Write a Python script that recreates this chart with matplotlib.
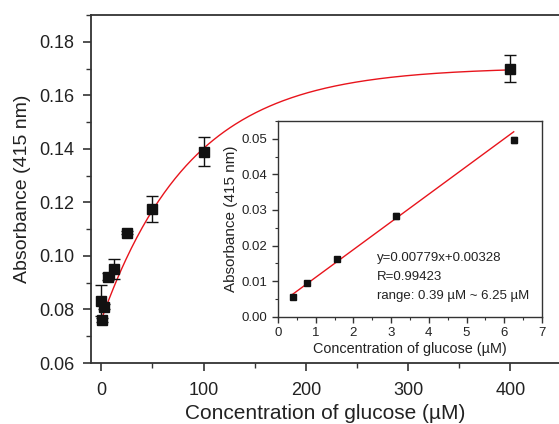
import numpy as np
import matplotlib
matplotlib.use('Agg')
import matplotlib.pyplot as plt
from matplotlib.ticker import MultipleLocator, FormatStrFormatter

plt.rcParams['font.family'] = ['Liberation Sans', 'DejaVu Sans']

# main data (full range)
conc = [0, 0.8, 3.1, 6.25, 12.5, 25, 50, 100, 400]
absb = [0.0833, 0.0761, 0.0810, 0.0923, 0.0950, 0.1087, 0.1175, 0.1390, 0.1700]
absb_err = [0.0057, 0.0008, 0.0010, 0.0012, 0.0037, 0.0005, 0.0047, 0.0055, 0.0050]

# exponential fit (y0 - A*exp(-x/t))
fit_y0 = 0.1705
fit_A = 0.0945
fit_t = 88.0

# inset data (linear range)
lin_conc = [0.39, 0.78, 1.56, 3.125, 6.25]
lin_absb = [0.0055, 0.0095, 0.0161, 0.0283, 0.0497]
lin_err = [0.0003, 0.0005, 0.0004, 0.0008, 0.0008]
slope = 0.00779
intercept = 0.00328
r_value = 0.99423
fit_lines = ['y={:.5f}x+{:.5f}'.format(slope, intercept),
             'R={:.5f}'.format(r_value),
             'range: 0.39 \u00b5M ~ 6.25 \u00b5M']

axis_col = '#333333'
txt_col = '#222222'

fig = plt.figure(figsize=(5.59, 4.24), dpi=100)
ax = fig.add_axes([91/559, 61/424, 1 - 91/559, (363-15)/424])

xf = np.linspace(0, 400, 300)
ax.plot(xf, fit_y0 - fit_A*np.exp(-xf/fit_t), color='#e8141c', lw=1.0, zorder=2)
ax.errorbar(conc, absb, yerr=absb_err, fmt='s', color='#111111', ms=7,
            capsize=4, elinewidth=1.0, capthick=1.0, zorder=3)

ax.set_xlim(-10, 447.5)
ax.set_ylim(0.06, 0.19)
ax.xaxis.set_major_locator(MultipleLocator(100))
ax.xaxis.set_minor_locator(MultipleLocator(50))
ax.yaxis.set_major_locator(MultipleLocator(0.02))
ax.yaxis.set_minor_locator(MultipleLocator(0.01))
ax.yaxis.set_major_formatter(FormatStrFormatter('%.2f'))
ax.tick_params(which='major', direction='out', length=6, width=1.2, labelsize=13,
               color=axis_col, labelcolor=txt_col)
ax.tick_params(which='minor', direction='out', length=3.5, width=1.0, color=axis_col)
ax.tick_params(axis='x', pad=8)
ax.tick_params(axis='y', pad=6)
ax.spines['right'].set_visible(False)
for s in ['left', 'bottom', 'top']:
    ax.spines[s].set_linewidth(1.3)
    ax.spines[s].set_color(axis_col)
ax.set_xlabel('Concentration of glucose (\u00b5M)', fontsize=15, color=txt_col, labelpad=3)
ax.set_ylabel('Absorbance (415 nm)', fontsize=14, color=txt_col, labelpad=6)

# inset
ins = fig.add_axes([278/559, (424-316.7)/424, (542-278)/559, (316.7-121)/424])
ins.set_facecolor('white')
xl = np.array([lin_conc[0], lin_conc[-1]])
ins.plot(xl, slope*xl + intercept, color='#e8141c', lw=1.0, zorder=2)
ins.errorbar(lin_conc, lin_absb, yerr=lin_err, fmt='s', color='#111111', ms=4,
             capsize=2, elinewidth=0.9, capthick=0.9, zorder=3)
ins.set_xlim(0, 7)
ins.set_ylim(0, 0.055)
ins.xaxis.set_major_locator(MultipleLocator(1))
ins.xaxis.set_minor_locator(MultipleLocator(0.5))
ins.yaxis.set_major_locator(MultipleLocator(0.01))
ins.yaxis.set_minor_locator(MultipleLocator(0.005))
ins.yaxis.set_major_formatter(FormatStrFormatter('%.2f'))
ins.tick_params(which='major', direction='out', length=4, width=1.0, labelsize=9.5,
                color=axis_col, labelcolor=txt_col)
ins.tick_params(which='minor', direction='out', length=2.5, width=0.8, color=axis_col)
for s in ins.spines.values():
    s.set_linewidth(1.0)
    s.set_color(axis_col)
ins.set_xlabel('Concentration of glucose (\u00b5M)', fontsize=10.4, color=txt_col, labelpad=2)
ins.set_ylabel('Absorbance (415 nm)', fontsize=11, color=txt_col, labelpad=3)

for line, yb in zip(fit_lines, [0.0157, 0.0103, 0.0050]):
    ins.text(2.62, yb, line, fontsize=9.5, color=txt_col, va='baseline', ha='left')

fig.savefig('out.png', dpi=100)
